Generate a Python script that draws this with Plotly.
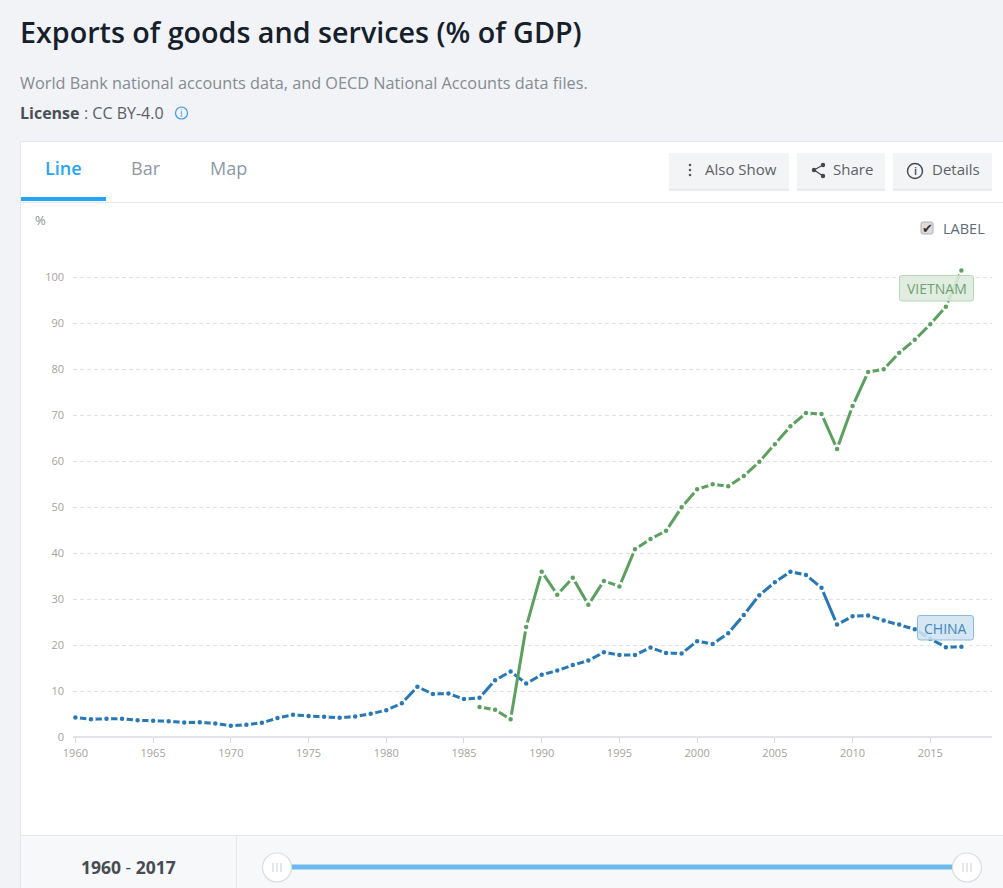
import plotly.graph_objects as go

years = list(range(1960, 2018))
china = [4.3, 3.9, 4.05, 4.05, 3.7, 3.6, 3.5, 3.2, 3.25, 3.0,
         2.5, 2.75, 3.15, 4.2, 4.9, 4.65, 4.45, 4.25, 4.5, 5.1,
         5.9, 7.4, 11.0, 9.4, 9.5, 8.3, 8.6, 12.4, 14.3, 11.7,
         13.6, 14.5, 15.7, 16.7, 18.5, 17.9, 17.9, 19.5, 18.3, 18.2,
         20.9, 20.3, 22.6, 26.6, 30.9, 33.7, 36.0, 35.3, 32.5, 24.5,
         26.3, 26.5, 25.4, 24.5, 23.5, 21.4, 19.6, 19.7]
vietnam_years = list(range(1986, 2018))
vietnam = [6.6, 6.0, 3.9, 24.0, 36.0, 31.0, 34.7, 28.8, 34.0, 32.8,
           40.9, 43.1, 44.9, 50.0, 53.9, 55.0, 54.6, 56.8, 59.9, 63.7,
           67.6, 70.5, 70.3, 62.7, 72.0, 79.4, 80.0, 83.6, 86.4, 89.8,
           93.6, 101.5]
x_ticks = list(range(1960, 2016, 5))
y_ticks = list(range(0, 101, 10))

W, H = 1003, 888
FONT = "Open Sans"
X0, X1 = 73, 992
Y0, YT = 737.3, 230
PX_YEAR = (930.3 - 75.4) / 55
PX_UNIT = 4.6


def xp(x):
    return x / W


def yp(y):
    return 1 - y / H


shapes = []
annotations = []


def rect(x0, y0, x1, y1, fill, line=None, layer="below", lw=1):
    shapes.append(dict(type="rect", xref="paper", yref="paper", x0=xp(x0), x1=xp(x1),
                       y0=yp(y1), y1=yp(y0), fillcolor=fill, layer=layer,
                       line=dict(color=line or fill, width=lw if line else 0)))


def rrect(x0, y0, x1, y1, r, fill, line, lw=1, layer="above"):
    pts = [("M", x0 + r, y0), ("L", x1 - r, y0), ("Q", x1, y0, x1, y0 + r), ("L", x1, y1 - r),
           ("Q", x1, y1, x1 - r, y1), ("L", x0 + r, y1), ("Q", x0, y1, x0, y1 - r),
           ("L", x0, y0 + r), ("Q", x0, y0, x0 + r, y0)]
    parts = []
    for p in pts:
        coords = p[1:]
        pairs = [f"{xp(coords[i])},{yp(coords[i + 1])}" for i in range(0, len(coords), 2)]
        parts.append(p[0] + " ".join(pairs))
    shapes.append(dict(type="path", xref="paper", yref="paper", path=" ".join(parts) + " Z",
                       fillcolor=fill, layer=layer, line=dict(color=line, width=lw)))


def circle(cx, cy, r, fill, line=None, lw=1, layer="above"):
    shapes.append(dict(type="circle", xref="paper", yref="paper", x0=xp(cx - r), x1=xp(cx + r),
                       y0=yp(cy + r), y1=yp(cy - r), fillcolor=fill, layer=layer,
                       line=dict(color=line or fill, width=lw if line else 0)))


def seg(x0, y0, x1, y1, color, lw=1, layer="above"):
    shapes.append(dict(type="line", xref="paper", yref="paper", x0=xp(x0), x1=xp(x1),
                       y0=yp(y0), y1=yp(y1), layer=layer, line=dict(color=color, width=lw)))


def text(x, y, s, size, color, anchor="left", weight=None):
    font = dict(family=FONT, size=size, color=color)
    if weight:
        font["weight"] = weight
    annotations.append(dict(xref="paper", yref="paper", x=xp(x), y=yp(y), text=s, showarrow=False,
                            xanchor=anchor, yanchor="middle", font=font, borderpad=0, borderwidth=0))


# card and its bands
rect(20.5, 141.5, W + 5, H + 5, "#ffffff", "#e3e6eb", lw=1)
rect(21, 836, W + 5, H + 5, "#f6f8fa")
seg(21, 835.5, W, 835.5, "#e3e6eb", layer="below")
seg(236.5, 836, 236.5, H, "#e3e6eb", layer="below")
seg(21, 202.5, W, 202.5, "#e6e9ed", layer="below")
rect(21, 197, 106, 201, "#25a5f5")

# header text
text(20, 31.5, "Exports of goods and services (% of GDP)", 28.7, "#15202b", weight=600)
text(20, 83, "World Bank national accounts data, and OECD National Accounts data files.", 16.25, "#858b90")
text(20, 113, "<b>License</b>", 16, "#4a4f55")
text(84, 113, ": CC BY-4.0", 16, "#5a5f65")
circle(181.5, 113, 6, "rgba(0,0,0,0)", "#3c9be8", 1.2)
text(181.5, 113, "i", 10, "#3c9be8", anchor="center")

# tabs
text(64, 168.5, "Line", 18, "#25a5f5", anchor="center", weight=600)
text(146, 168.5, "Bar", 18, "#8c9aa3", anchor="center")
text(228, 168.5, "Map", 18, "#8c9aa3", anchor="center")

# buttons
for bx0, bx1 in [(669, 789), (797, 885), (893, 992)]:
    rect(bx0, 153, bx1, 191, "#e8eaee")
    rect(bx0, 153, bx1, 188.5, "#f3f4f6")
for dy in (165, 170, 175):
    circle(690, dy, 1.3, "#55595e")
text(705, 169, "Also Show", 15, "#5c6166")
seg(823, 165, 814, 170, "#44484d", 1.3)
seg(814, 170, 823, 176, "#44484d", 1.3)
for cx, cy in [(823, 165), (814, 170), (823, 176)]:
    circle(cx, cy, 2.2, "#44484d")
text(833, 169, "Share", 15, "#5c6166")
circle(915, 171, 7.5, "rgba(0,0,0,0)", "#44484d", 1.4)
text(915, 171, "i", 11, "#44484d", anchor="center", weight=600)
text(932, 169, "Details", 15, "#5c6166")

# chart chrome
text(35, 220, "%", 13, "#8d9196")
rrect(921, 222, 933, 234, 2, "#dcdcdc", "#b0b0b0")
text(927, 228, "✔", 13, "#333333", anchor="center")
text(943, 228, "LABEL", 14.5, "#5b6b7a")

# series labels
rrect(899.5, 275.5, 973.5, 301, 2.5, "rgba(222,235,222,0.88)", "#b5d8b5")
text(936.5, 288, "VIETNAM", 14, "#6fa36f", anchor="center")
rrect(917.5, 615.5, 973.5, 640, 2.5, "rgba(208,226,240,0.88)", "#8dbbdd")
text(945.5, 628, "CHINA", 14, "#3f86bd", anchor="center")

# time slider
text(128.5, 867, "<b>1960</b> - <b>2017</b>", 17.5, "#474c52", anchor="center")
rect(277, 864.5, 967, 869.5, "#6cb9ee")
for cx in (277, 967):
    circle(cx, 867.5, 14.5, "#ffffff", "#d9dee3", 1.2)
    for d in (-4, 0, 4):
        seg(cx + d, 863, cx + d, 872, "#c9ced3", 1)


def series(xs, ys, name, color):
    return go.Scatter(x=xs, y=ys, name=name, mode="lines+markers", cliponaxis=False,
                      line=dict(color=color, width=3),
                      marker=dict(color=color, size=7, line=dict(color="#ffffff", width=2.5)))


fig = go.Figure([series(years, china, "China", "#2878b5"),
                 series(vietnam_years, vietnam, "Vietnam", "#5ba05f")])

fig.update_layout(
    width=W, height=H, autosize=False, margin=dict(l=0, r=0, t=0, b=0),
    paper_bgcolor="#f1f3f7", plot_bgcolor="rgba(0,0,0,0)", showlegend=False,
    font=dict(family=FONT), shapes=shapes, annotations=annotations,
    xaxis=dict(domain=[xp(X0), xp(X1)], automargin=False,
               range=[1960 - (75.4 - X0) / PX_YEAR, 1960 + (X1 - 75.4) / PX_YEAR],
               tickvals=x_ticks, ticks="outside", ticklen=5, tickwidth=1, tickcolor="#d5d8dc",
               tickfont=dict(size=11, color="#a5a29c", family=FONT), showgrid=False,
               showline=False, zeroline=False, fixedrange=True),
    yaxis=dict(domain=[yp(Y0), yp(YT)], automargin=False, range=[0, (Y0 - YT) / PX_UNIT],
               tickvals=y_ticks, ticks="", ticklabelstandoff=8,
               tickfont=dict(size=11, color="#a5a29c", family=FONT),
               showgrid=True, gridcolor="#e0e0e0", griddash="4px,3px", gridwidth=1,
               zeroline=True, zerolinecolor="#e2e4e7", zerolinewidth=2, showline=False, fixedrange=True),
)

fig.write_html("out.html", config=dict(displayModeBar=False),
               post_script="document.documentElement.style.background='#f1f3f7';document.body.style.margin='0';")
